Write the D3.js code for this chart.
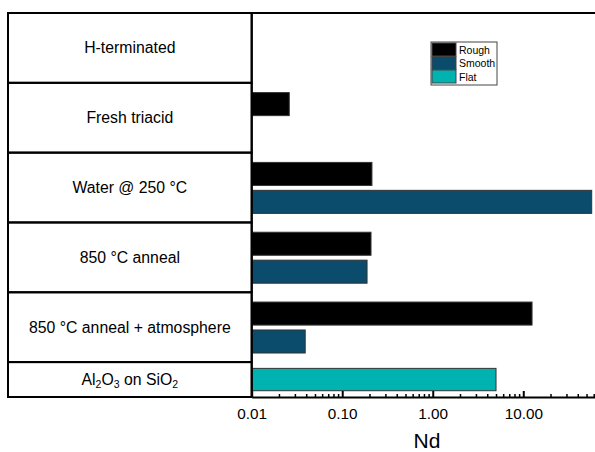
<!DOCTYPE html>
<html>
<head>
<meta charset="utf-8">
<script src="https://cdn.jsdelivr.net/npm/d3@7"></script>
<style>
  body { margin: 0; background: #fff; }
  text { font-family: "Liberation Sans", Arial, sans-serif; }
</style>
</head>
<body>
<svg id="chart" width="595" height="452"></svg>
<script>
// categories top to bottom (last row is half height)
const categories = ['H-terminated', 'Fresh triacid', 'Water @ 250 °C', '850 °C anneal', '850 °C anneal + atmosphere', 'Al2O3 on SiO2'];
const rough = [null, 0.026, 0.213, 0.208, 12.5, null];
const smooth = [null, null, 57, 0.188, 0.039, null];
const flat = [null, null, null, null, null, 5.0];
const seriesNames = ['Rough', 'Smooth', 'Flat'];
const seriesColors = ['#000000', '#0b4b6b', '#00b2b0'];
const majorTicks = [0.01, 0.1, 1, 10];

const svg = d3.select('#chart');
const tableLeft = 8, plotLeft = 251.7, plotRight = 595, plotTop = 13, plotBottom = 397;

const x = d3.scaleLog().domain([0.01, 62]).range([plotLeft, plotRight]);
// row units: each full row = 1, last row = 0.5
const y = d3.scaleLinear().domain([0, 5.5]).range([plotTop, plotBottom]);
const rowTop = (i) => i;
const rowBot = (i) => (i === categories.length - 1 ? 5.5 : i + 1);

// bars
const bars = [];
categories.forEach((c, i) => {
  [rough, smooth].forEach((s, k) => {
    if (s[i] != null) bars.push({ v: s[i], color: seriesColors[k], y0: i + 0.14 + k * 0.4, h: 0.33 });
  });
  if (flat[i] != null) bars.push({ v: flat[i], color: seriesColors[2], y0: i + 0.09, h: 0.32 });
});

svg.selectAll('rect.bar')
  .data(bars)
  .enter()
  .append('rect')
  .classed('bar', true)
  .attr('x', x(0.01))
  .attr('y', (d) => y(d.y0))
  .attr('width', (d) => x(d.v) - x(0.01))
  .attr('height', (d) => y(d.y0 + d.h) - y(d.y0))
  .attr('fill', (d) => d.color)
  .attr('stroke', '#333')
  .attr('stroke-width', 1);

// label table on the left
const rows = svg.selectAll('g.row')
  .data(categories)
  .enter()
  .append('g')
  .classed('row', true);

rows.append('rect')
  .attr('x', tableLeft)
  .attr('y', (d, i) => y(rowTop(i)))
  .attr('width', plotLeft - tableLeft)
  .attr('height', (d, i) => y(rowBot(i)) - y(rowTop(i)))
  .attr('fill', 'none')
  .attr('stroke', '#000')
  .attr('stroke-width', 2);

rows.append('text')
  .attr('x', (tableLeft + plotLeft) / 2)
  .attr('y', (d, i) => (y(rowTop(i)) + y(rowBot(i))) / 2 + 5.5)
  .attr('text-anchor', 'middle')
  .attr('font-size', 15.8)
  .each(function (d) {
    const t = d3.select(this);
    if (d === 'Al2O3 on SiO2') {
      t.append('tspan').text('Al');
      t.append('tspan').text('2').attr('font-size', 10.5).attr('baseline-shift', '-25%');
      t.append('tspan').text('O');
      t.append('tspan').text('3').attr('font-size', 10.5).attr('baseline-shift', '-25%');
      t.append('tspan').text(' on SiO');
      t.append('tspan').text('2').attr('font-size', 10.5).attr('baseline-shift', '-25%');
    } else {
      t.text(d);
    }
  });

// frame line on top
svg.append('line')
  .attr('x1', tableLeft).attr('x2', plotRight).attr('y1', plotTop).attr('y2', plotTop)
  .attr('stroke', '#000').attr('stroke-width', 2);

// x axis: minor ticks then major
const minor = [];
for (let e = -2; e <= 1; e++) {
  for (let m = 2; m <= 9; m++) {
    const v = m * Math.pow(10, e);
    if (v <= 62) minor.push(v);
  }
}

svg.append('g')
  .attr('transform', `translate(0,${plotBottom})`)
  .call(d3.axisBottom(x).tickValues(minor).tickFormat('').tickSizeInner(-3).tickSizeOuter(0))
  .call((g) => g.select('.domain').remove())
  .call((g) => g.selectAll('line').attr('stroke-width', 1.5));

const xAxis = svg.append('g')
  .attr('transform', `translate(0,${plotBottom})`)
  .call(d3.axisBottom(x).tickValues(majorTicks).tickFormat(d3.format('.2f')).tickSizeInner(-6).tickSizeOuter(0).tickPadding(11));
xAxis.select('.domain').attr('stroke-width', 2);
xAxis.selectAll('line').attr('stroke-width', 2);
xAxis.selectAll('text').attr('font-size', 15.3).attr('font-family', '"Liberation Sans", Arial, sans-serif').attr('fill', '#000');

svg.append('line')
  .attr('x1', plotLeft).attr('x2', plotLeft).attr('y1', plotTop).attr('y2', plotBottom)
  .attr('stroke', '#000').attr('stroke-width', 2);

svg.append('text')
  .attr('x', 427)
  .attr('y', 448)
  .attr('text-anchor', 'middle')
  .attr('font-size', 21)
  .text('Nd');

// legend
const legend = svg.append('g').attr('transform', 'translate(431,42)');
legend.append('rect')
  .attr('width', 66).attr('height', 43)
  .attr('fill', '#fff').attr('stroke', '#444').attr('stroke-width', 1);
const item = legend.selectAll('g.item')
  .data(seriesNames)
  .enter()
  .append('g')
  .classed('item', true)
  .attr('transform', (d, i) => `translate(1,${1 + i * 13.5})`);
item.append('rect')
  .attr('width', 24).attr('height', 13)
  .attr('fill', (d, i) => seriesColors[i])
  .attr('stroke', '#444').attr('stroke-width', 1);
item.append('text')
  .attr('x', 27).attr('y', 10.5)
  .attr('font-size', 10.5)
  .text((d) => d);
</script>
</body>
</html>
